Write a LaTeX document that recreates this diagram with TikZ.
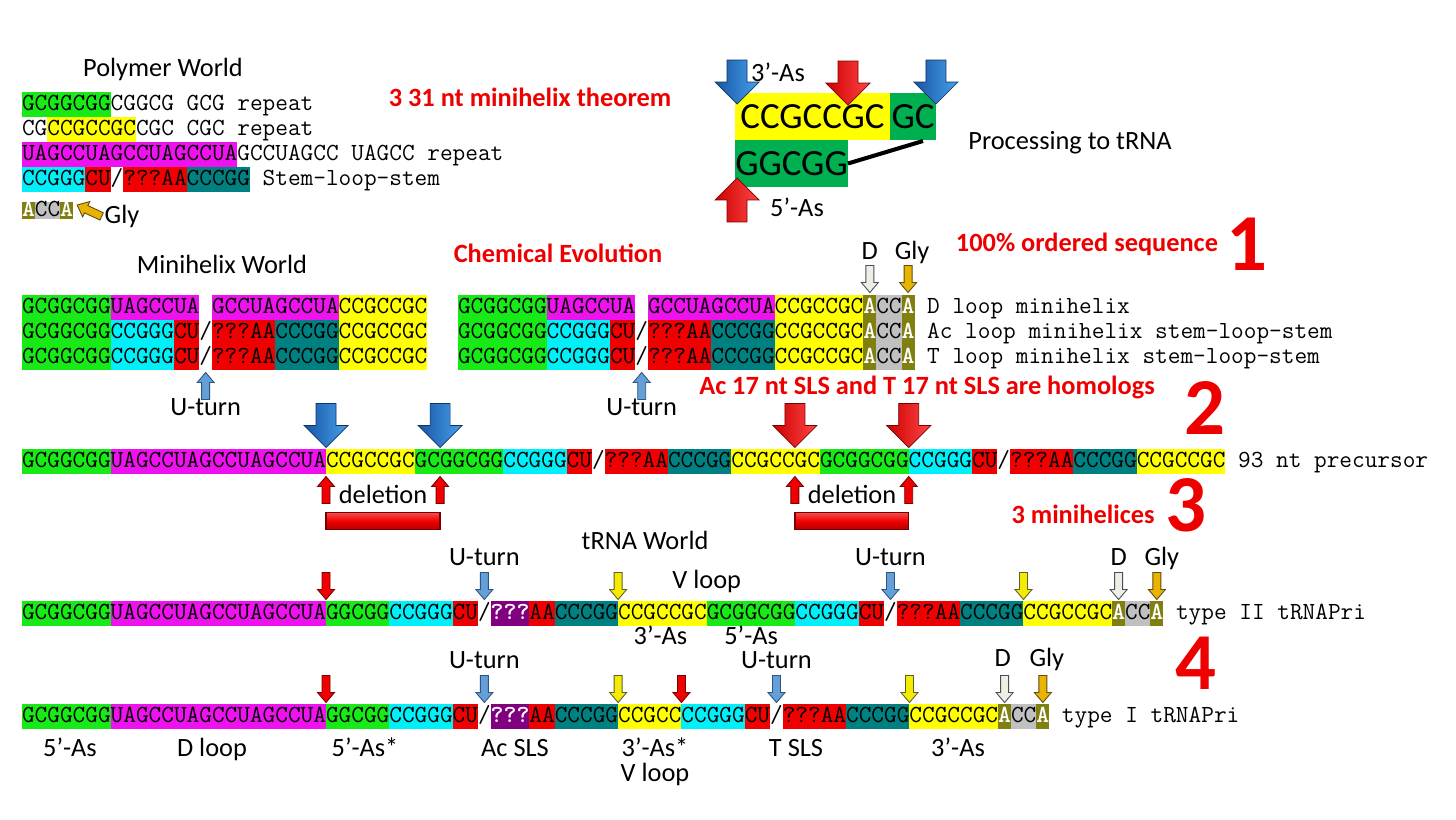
\documentclass[tikz,border=0pt]{standalone}
\usepackage{fontspec}
\setmainfont{Carlito}
\usetikzlibrary{positioning,calc}

\definecolor{sgreen}{RGB}{24,234,24}
\definecolor{smag}{RGB}{238,18,238}
\definecolor{syellow}{RGB}{255,255,0}
\definecolor{scyan}{RGB}{0,240,250}
\definecolor{sred}{RGB}{240,0,0}
\definecolor{steal}{RGB}{0,128,128}
\definecolor{solive}{RGB}{128,128,16}
\definecolor{sgray}{RGB}{192,192,192}
\definecolor{spurple}{RGB}{128,0,128}
\definecolor{pgreen}{RGB}{0,176,80}
\definecolor{lblred}{RGB}{238,0,0}
\definecolor{bluedark}{RGB}{25,85,165}
\definecolor{bluelight}{RGB}{70,160,235}
\definecolor{reddark}{RGB}{205,0,0}
\definecolor{redlight}{RGB}{255,70,70}
\definecolor{ufill}{RGB}{100,160,215}
\definecolor{uedge}{RGB}{45,85,130}
\definecolor{yfill}{RGB}{245,235,0}
\definecolor{yedge}{RGB}{95,95,40}
\definecolor{dfill}{RGB}{238,238,228}
\definecolor{dedge}{RGB}{70,80,90}
\definecolor{glyfill}{RGB}{232,180,0}
\definecolor{glyedge}{RGB}{95,75,20}
\definecolor{sredge}{RGB}{120,0,0}

% one character of the sequence font, in px
\newcommand\cw{12.7}
\newcommand\slh{/}
\newcommand\wA{\textcolor{white}{\textbf{A}}}
\newcommand\wq{\textcolor{white}{\textbf{???}}}

% a row of coloured pieces, chained left to right
\newcommand\seqrow[4][]{%
  \coordinate (#2-0) at (#3);
  \foreach \clr/\txt [count=\i, remember=\i as \j (initially 0)] in {#4}
    \node[seg, fill=\clr, #1, right=0pt of #2-\j] (#2-\i) {\txt};
}

\tikzset{
  pics/bigarrow/.style 2 args={code={
    \draw[#1!60!black, left color=#1, right color=#2, line width=0.4pt]
      (-10,-44) -- (-10,-22) -- (-22,-22) -- (0,0) -- (22,-22) -- (10,-22) -- (10,-44) -- cycle;
  }},
  pics/smallarrow/.style 2 args={code={
    \draw[draw=#2, fill=#1, line width=0.5pt]
      (-4,-27) -- (-4,-10) -- (-8.5,-10) -- (0,0) -- (8.5,-10) -- (4,-10) -- (4,-27) -- cycle;
  }},
}

\begin{document}
\begin{tikzpicture}[x=0.02cm, y=-0.02cm,
    seg/.style={inner sep=0pt, outer sep=0pt, minimum height=0.5cm, text height=9.5pt, text depth=2.5pt, font=\ttfamily\fontsize{14}{14}\selectfont},
    lbl/.style={inner sep=0pt, font=\fontsize{15}{18}\selectfont, text height=10pt, text depth=3pt},
    rlbl/.style={lbl, text=lblred, font=\bfseries\fontsize{15}{18}\selectfont},
    bignum/.style={inner sep=0pt, text=lblred, font=\bfseries\fontsize{46}{46}\selectfont},
    pbox/.style={inner sep=0pt, outer sep=0pt, minimum height=0.94cm, font=\fontsize{21}{21}\selectfont},
    delbar/.style={draw=sred!50!black, line width=0.8pt, top color=sred!70!white, bottom color=sred!75!black, middle color=sred}
  ]
  \fill[white] (0,0) rectangle (1456,819);
  \useasboundingbox (0,0) rectangle (1456,819);

  % Polymer World
  \node[lbl] (pw) at (163,70) {Polymer World};
  \seqrow{p1}{22,104}{sgreen/GCGGCGG, none/CGGCG GCG repeat}
  \seqrow{p2}{22,129}{none/CG, syellow/CCGCCGC, none/CGC CGC repeat}
  \seqrow{p3}{22,154}{smag/UAGCCUAGCCUAGCCUA, none/GCCUAGCC UAGCC repeat}
  \seqrow{p4}{22,179}{scyan/CCGGG, sred/CU, none/\slh, sred/???AA, steal/CCCGG, none/\ Stem-loop-stem}
  \seqrow[minimum height=0.34cm, text height=8pt, text depth=1pt]{pa}{22,210}{solive/\wA, sgray/CC, solive/\wA}
  \pic[rotate=-115] at ($(pa-3.east)+(4,-5)$) {smallarrow={glyfill}{glyedge}};
  \node[lbl] (gly0) at (122,217) {Gly};
  \node[rlbl] (thm) at (530,100) {3 31 nt minihelix theorem};

  % Processing
  \node[pbox, fill=syellow, minimum width=3.1cm] (ccg) at (812.5,116.5) {CCGCCGC};
  \node[pbox, fill=pgreen, minimum width=0.92cm, right=0pt of ccg] (gc) {GC};
  \node[pbox, fill=pgreen, minimum width=2.26cm, anchor=north west] (ggc) at (ccg.south west) {GGCGG};
  \coordinate (lk) at ($(gc.south)+(10,1)$);
  \draw[line width=2.3pt] (ggc.east) -- (lk);
  \pic at ($(ccg.north west)+(2,11)$) {bigarrow={bluedark}{bluelight}};
  \pic at ($(ggc.east |- ccg.north)+(0,12)$) {bigarrow={reddark}{redlight}};
  \pic at ($(gc.north east)+(0,11)$) {bigarrow={bluedark}{bluelight}};
  \pic[rotate=180] at ($(ggc.south west)+(2,-9)$) {bigarrow={reddark}{redlight}};
  \node[lbl] (as3) at (778,75) {3’-As};
  \node[lbl] (as5) at (797,210) {5’-As};
  \node[lbl] (proc) at (1070,143) {Processing to tRNA};

  % Minihelix World
  \node[lbl] (mw) at (222,267) {Minihelix World};
  \node[rlbl] (chem) at (558,256) {Chemical Evolution};
  \node[rlbl] (ord) at (1087,245) {100\% ordered sequence};
  \node[bignum] (n1) at (1247,244) {1};
  \seqrow{m1}{22,307}{sgreen/GCGGCGG, smag/UAGCCUA, none/\phantom{A}, smag/GCCUAGCCUA, syellow/CCGCCGC}
  \seqrow{m2}{22,332}{sgreen/GCGGCGG, scyan/CCGGG, sred/CU, none/\slh, sred/???AA, steal/CCCGG, syellow/CCGCCGC}
  \seqrow{m3}{22,357}{sgreen/GCGGCGG, scyan/CCGGG, sred/CU, none/\slh, sred/???AA, steal/CCCGG, syellow/CCGCCGC}
  \seqrow{r1}{458,307}{sgreen/GCGGCGG, smag/UAGCCUA, none/\phantom{A}, smag/GCCUAGCCUA, syellow/CCGCCGC, solive/\wA, sgray/CC, solive/\wA, none/\ D loop minihelix}
  \seqrow{r2}{458,332}{sgreen/GCGGCGG, scyan/CCGGG, sred/CU, none/\slh, sred/???AA, steal/CCCGG, syellow/CCGCCGC, solive/\wA, sgray/CC, solive/\wA, none/\ Ac loop minihelix stem-loop-stem}
  \seqrow{r3}{458,357}{sgreen/GCGGCGG, scyan/CCGGG, sred/CU, none/\slh, sred/???AA, steal/CCCGG, syellow/CCGCCGC, solive/\wA, sgray/CC, solive/\wA, none/\ T loop minihelix stem-loop-stem}
  \pic at ($(r1-6.north)+(0,-2)$) {smallarrow={dfill}{dedge}};
  \pic at ($(r1-8.north)+(0,-2)$) {smallarrow={glyfill}{glyedge}};
  \node[lbl] (d1) at ($(r1-6.north)+(0,-41)$) {D};
  \node[lbl] (g1) at ($(r1-8.north)+(4,-41)$) {Gly};
  \pic[rotate=180] at ($(m3-4.south)+(0,3)$) {smallarrow={ufill}{uedge}};
  \node[lbl] (u1) at ($(m3-4.south)+(0,40)$) {U-turn};
  \pic[rotate=180] at ($(r3-4.south)+(0,3)$) {smallarrow={ufill}{uedge}};
  \node[lbl] (u2) at ($(r3-4.south)+(0,40)$) {U-turn};
  \node[rlbl] (hom) at (927,388) {Ac 17 nt SLS and T 17 nt SLS are homologs};
  \node[bignum] (n2) at (1205,408) {2};

  % 93 nt precursor
  \seqrow{pre}{22,461}{sgreen/GCGGCGG, smag/UAGCCUAGCCUAGCCUA, syellow/CCGCCGC, sgreen/GCGGCGG, scyan/CCGGG, sred/CU, none/\slh, sred/???AA, steal/CCCGG, syellow/CCGCCGC, sgreen/GCGGCGG, scyan/CCGGG, sred/CU, none/\slh, sred/???AA, steal/CCCGG, syellow/CCGCCGC, none/\ 93 nt precursor}
  \pic at ($(pre-3.north west)+(0,-1)$) {bigarrow={bluedark}{bluelight}};
  \pic at ($(pre-4.north west)+(2*\cw,-1)$) {bigarrow={bluedark}{bluelight}};
  \pic at ($(pre-10.north west)+(5*\cw,-1)$) {bigarrow={reddark}{redlight}};
  \pic at ($(pre-12.north west)+(0,-1)$) {bigarrow={reddark}{redlight}};
  \pic[rotate=180] at ($(pre-3.south west)+(0,3)$) {smallarrow={sred}{sredge}};
  \pic[rotate=180] at ($(pre-4.south west)+(2*\cw,3)$) {smallarrow={sred}{sredge}};
  \pic[rotate=180] at ($(pre-10.south west)+(5*\cw,3)$) {smallarrow={sred}{sredge}};
  \pic[rotate=180] at ($(pre-12.south west)+(0,3)$) {smallarrow={sred}{sredge}};
  \node[lbl] (del1) at (383,497) {deletion};
  \node[lbl] (del2) at (852,497) {deletion};
  \draw[delbar] ($(pre-3.south west)+(0,39)$) rectangle ($(pre-4.south west)+(2*\cw,56)$);
  \draw[delbar] ($(pre-10.south west)+(5*\cw,39)$) rectangle ($(pre-12.south west)+(0,56)$);
  \node[rlbl] (mh3) at (1083,517) {3 minihelices};
  \node[bignum] (n3) at (1186,505) {3};

  % tRNA World
  \node[lbl] (tw) at (645,543) {tRNA World};
  \seqrow{t2}{22,613}{sgreen/GCGGCGG, smag/UAGCCUAGCCUAGCCUA, sgreen/GGCGG, scyan/CCGGG, sred/CU, none/\slh, spurple/\wq, sred/AA, steal/CCCGG, syellow/CCGCCGC, sgreen/GCGGCGG, scyan/CCGGG, sred/CU, none/\slh, sred/???AA, steal/CCCGG, syellow/CCGCCGC, solive/\wA, sgray/CC, solive/\wA, none/\ type II tRNAPri}
  \pic at ($(t2-3.north west)+(0,-1)$) {smallarrow={sred}{sredge}};
  \pic at ($(t2-6.north)+(0,-1)$) {smallarrow={ufill}{uedge}};
  \pic at ($(t2-10.north west)+(0,-1)$) {smallarrow={yfill}{yedge}};
  \pic at ($(t2-14.north)+(0,-1)$) {smallarrow={ufill}{uedge}};
  \pic at ($(t2-17.north west)+(0,-1)$) {smallarrow={yfill}{yedge}};
  \pic at ($(t2-18.north)+(0,-1)$) {smallarrow={dfill}{dedge}};
  \pic at ($(t2-20.north)+(0,-1)$) {smallarrow={glyfill}{glyedge}};
  \node[lbl] (u3) at ($(t2-6.north)+(0,-41)$) {U-turn};
  \node[lbl] (u4) at ($(t2-14.north)+(0,-41)$) {U-turn};
  \node[lbl] (d2) at ($(t2-18.north)+(0,-41)$) {D};
  \node[lbl] (g2) at ($(t2-20.north)+(5,-41)$) {Gly};
  \node[lbl] (vl2) at ($(t2-11.north west)+(0,-18)$) {V loop};
  \node[lbl] (as3b) at ($(t2-10.south)+(-2,13)$) {3’-As};
  \node[lbl] (as5b) at ($(t2-11.south)+(0,13)$) {5’-As};
  \node[bignum] (n4) at (1196,663) {4};

  \seqrow{t1}{22,716}{sgreen/GCGGCGG, smag/UAGCCUAGCCUAGCCUA, sgreen/GGCGG, scyan/CCGGG, sred/CU, none/\slh, spurple/\wq, sred/AA, steal/CCCGG, syellow/CCGCC, scyan/CCGGG, sred/CU, none/\slh, sred/???AA, steal/CCCGG, syellow/CCGCCGC, solive/\wA, sgray/CC, solive/\wA, none/\ type I tRNAPri}
  \pic at ($(t1-3.north west)+(0,-1)$) {smallarrow={sred}{sredge}};
  \pic at ($(t1-6.north)+(0,-1)$) {smallarrow={ufill}{uedge}};
  \pic at ($(t1-10.north west)+(0,-1)$) {smallarrow={yfill}{yedge}};
  \pic at ($(t1-11.north west)+(0,-1)$) {smallarrow={sred}{sredge}};
  \pic at ($(t1-13.north)+(0,-1)$) {smallarrow={ufill}{uedge}};
  \pic at ($(t1-16.north west)+(0,-1)$) {smallarrow={yfill}{yedge}};
  \pic at ($(t1-17.north)+(0,-1)$) {smallarrow={dfill}{dedge}};
  \pic at ($(t1-19.north)+(0,-1)$) {smallarrow={glyfill}{glyedge}};
  \node[lbl] (u5) at ($(t1-6.north)+(0,-41)$) {U-turn};
  \node[lbl] (u6) at ($(t1-13.north)+(0,-41)$) {U-turn};
  \node[lbl] (d3) at ($(t1-17.north)+(-2,-43)$) {D};
  \node[lbl] (g3) at ($(t1-19.north)+(4,-43)$) {Gly};

  % Region names
  \node[lbl] (b1) at (70,750) {5’-As};
  \node[lbl] (b2) at (212,750) {D loop};
  \node[lbl] (b3) at (365,750) {5’-As*};
  \node[lbl] (b4) at (515,750) {Ac SLS};
  \node[lbl] (b5) at (655,750) {3’-As*};
  \node[lbl] (b6) at (655,775) {V loop};
  \node[lbl] (b7) at (796,750) {T SLS};
  \node[lbl] (b8) at (958,750) {3’-As};
\end{tikzpicture}
\end{document}
